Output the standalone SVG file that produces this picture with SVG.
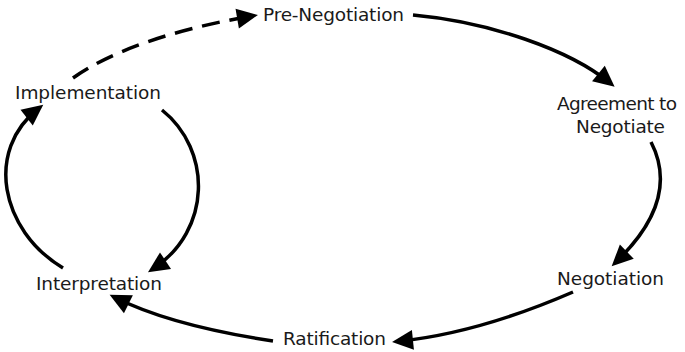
<svg xmlns="http://www.w3.org/2000/svg" width="685" height="352" viewBox="0 0 685 352">
<style>
text{font-family:"DejaVu Sans","Liberation Sans",sans-serif;font-size:18.5px;fill:#1a1a1a;text-anchor:middle}
.c{fill:none;stroke:#000;stroke-width:3.5;marker-end:url(#ah)}
.d{stroke-dasharray:18 10}
</style>
<defs>
<marker id="ah" markerUnits="userSpaceOnUse" markerWidth="24" markerHeight="22" refX="15" refY="10" orient="auto" overflow="visible">
<path d="M0,0 L21,10 L0,20 z" fill="#000"/>
</marker>
</defs>
<rect width="685" height="352" fill="#fff"/>
<g id="connectors">
<path class="c d" d="M73,78 C110,52 170,30 252,16"/>
<path class="c" d="M413,15 C490,22 570,50 610,83"/>
<path class="c" d="M651,142 C668,175 665,215 616,262"/>
<path class="c" d="M573,292 C520,315 460,335 398,341.4"/>
<path class="c" d="M273,341 C200,330 150,315 115,297.5"/>
<path class="c" d="M63,268 C0,230 -15,150 38.5,108.5"/>
<path class="c" d="M162,110 C212,150 212,230 153,269"/>
</g>
<g id="pre-negotiation"><text x="333.5" y="21" textLength="141">Pre-Negotiation</text></g>
<g id="agreement"><text x="617" y="110" textLength="120">Agreement to</text><text x="620.5" y="133" textLength="89">Negotiate</text></g>
<g id="negotiation"><text x="610.5" y="285" textLength="107">Negotiation</text></g>
<g id="ratification"><text x="334.5" y="345" textLength="103">Ratification</text></g>
<g id="interpretation"><text x="99" y="290" textLength="126">Interpretation</text></g>
<g id="implementation"><text x="88" y="99" textLength="146">Implementation</text></g>
</svg>
